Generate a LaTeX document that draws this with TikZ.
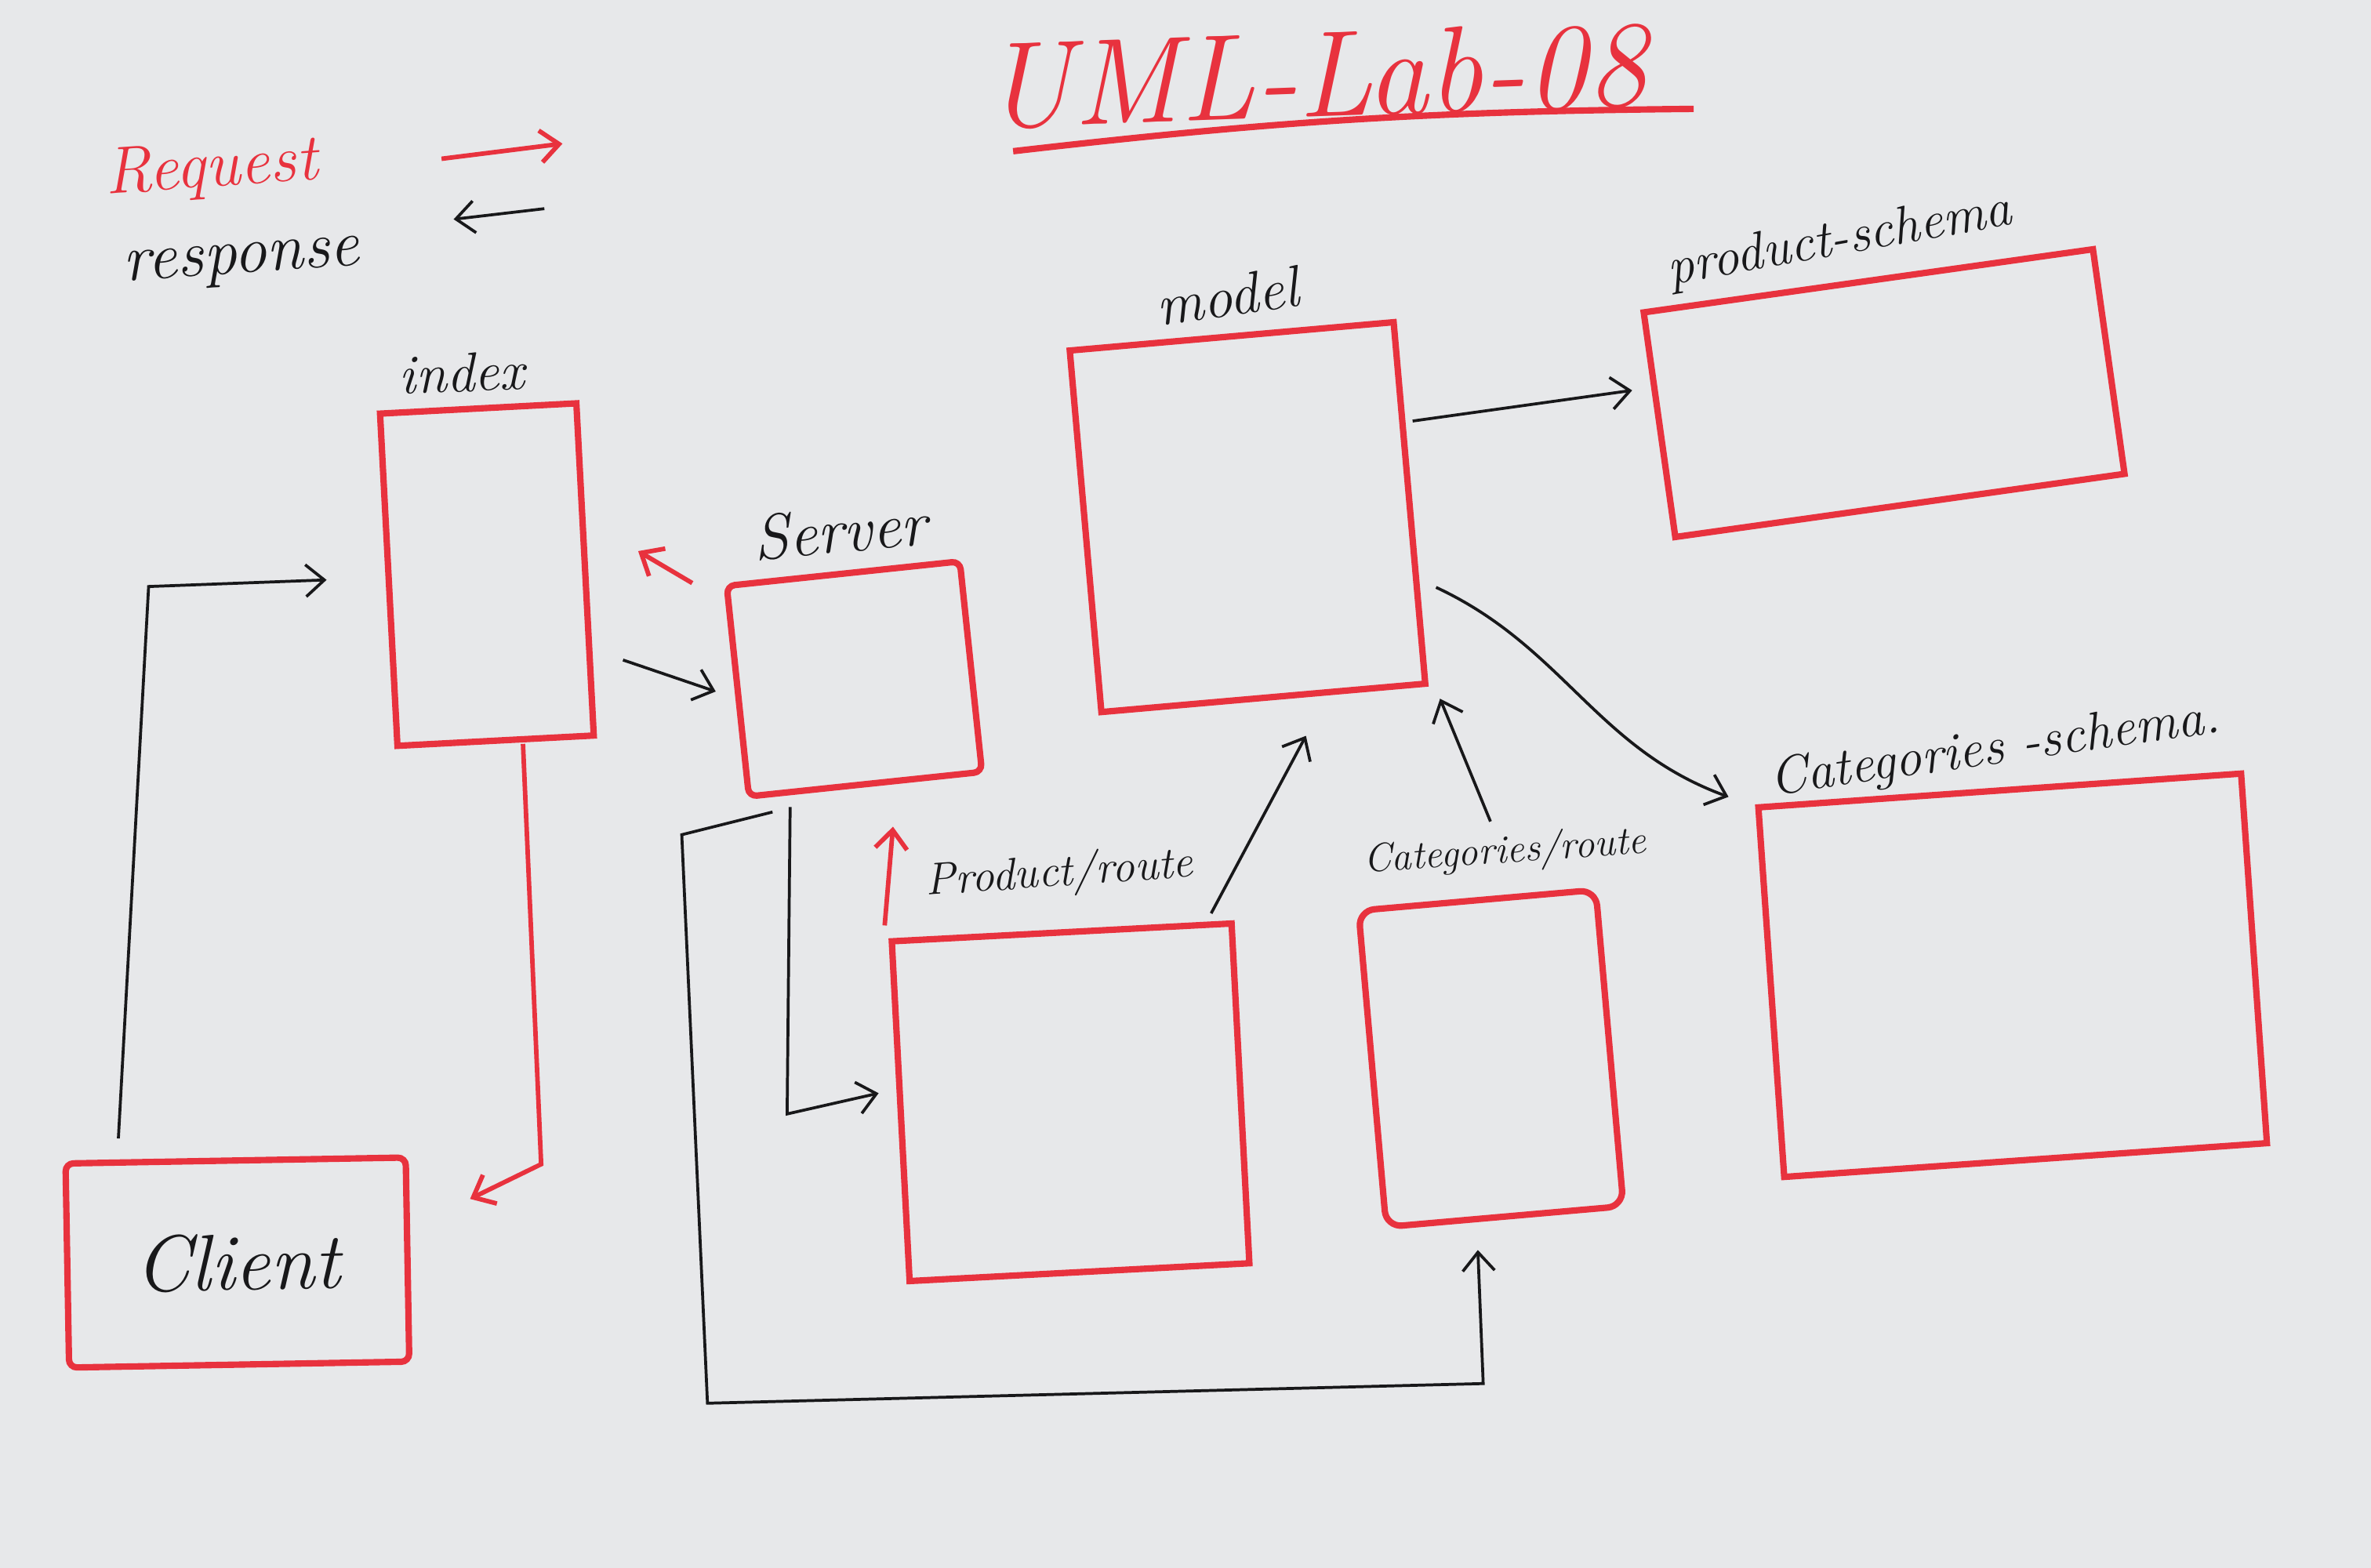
\documentclass[tikz,border=0pt]{standalone}
\usepackage{tikz}
\usetikzlibrary{positioning, arrows.meta}
\definecolor{marker}{RGB}{232,50,62}
\definecolor{ink}{RGB}{24,24,26}
\definecolor{board}{RGB}{231,232,234}
\tikzset{>={Straight Barb[length=7pt,width=12pt]}, redbox/.style={draw=marker, line width=2.4pt, inner sep=0pt}, hand/.style={text=ink, font=\fontsize{21}{23}\selectfont\itshape}, reqline/.style={draw=marker, line width=1.7pt, ->}, respline/.style={draw=ink, line width=1.1pt, ->}}

\begin{document}
\begin{tikzpicture}
	\fill[board] (0,0) rectangle (31.36,-20.74);
	\useasboundingbox (0,0) rectangle (31.36,-20.74);
	% title and legend
	\node[hand, text=marker, font=\fontsize{46}{50}\selectfont\itshape, rotate=2] (title) at (17.4,-1.0) {UML-Lab-08};
	\coordinate (ula) at (13.4,-2.0);
	\coordinate (ulb) at (22.4,-1.44);
	\draw[marker, line width=2.4pt] (ula) to[bend left=3] (ulb);
	\node[hand, text=marker, font=\fontsize{25}{27}\selectfont\itshape, rotate=4, inner sep=0pt] (request) at (2.8,-2.25) {Request};
	\node[hand, font=\fontsize{25}{27}\selectfont\itshape, rotate=4, inner sep=0pt] (response) at (3.2,-3.5) {response};
	\coordinate (reqa) at (5.84,-2.1);
	\coordinate (reqb) at (7.44,-1.9);
	\coordinate (respa) at (7.2,-2.76);
	\coordinate (respb) at (6.0,-2.9);
	\draw[reqline] (reqa) -- (reqb);
	\draw[respline] (respa) -- (respb);

	% boxes
	\node[redbox, minimum width=4.5cm, minimum height=2.7cm, rotate=1, rounded corners=3pt, font=\fontsize{30}{32}\selectfont\itshape, text=ink] (client) at (3.14,-16.7) {Client};
	\node[redbox, minimum width=2.6cm, minimum height=4.4cm, rotate=3] (index) at (6.44,-7.6) {};
	\node[redbox, minimum width=3.1cm, minimum height=2.8cm, rotate=6, rounded corners=3pt] (server) at (11.3,-8.98) {};
	\node[redbox, minimum width=4.3cm, minimum height=4.8cm, rotate=5] (model) at (16.5,-6.84) {};
	\node[redbox, minimum width=6cm, minimum height=3cm, rotate=8] (pschema) at (24.92,-5.2) {};
	\node[redbox, minimum width=4.5cm, minimum height=4.5cm, rotate=3] (proute) at (14.16,-14.58) {};
	\node[redbox, minimum width=3.15cm, minimum height=4.2cm, rotate=5, rounded corners=6pt] (croute) at (19.72,-14.0) {};
	\node[redbox, minimum width=6.4cm, minimum height=4.9cm, rotate=4] (cschema) at (26.62,-12.9) {};

	% labels
	\node[hand, above=0.05cm of index.north, xshift=-0.2cm, rotate=2] (indexlbl) {index};
	\node[hand, font=\fontsize{24}{26}\selectfont\itshape, above=0.1cm of server.north, rotate=5] (serverlbl) {Server};
	\node[hand, font=\fontsize{22}{24}\selectfont\itshape, above=0.1cm of model.north, rotate=8] (modellbl) {model};
	\node[hand, font=\fontsize{20}{22}\selectfont\itshape, above=0.05cm of pschema.north, xshift=-0.3cm, rotate=10] (pschemalbl) {product-schema};
	\node[hand, font=\fontsize{17}{19}\selectfont\itshape, above=0.3cm of proute.north, rotate=4] (proutelbl) {Product/route};
	\node[hand, font=\fontsize{15}{17}\selectfont\itshape, above=0.2cm of croute.north, xshift=0.4cm, rotate=4] (croutelbl) {Categories/route};
	\node[hand, font=\fontsize{20}{22}\selectfont\itshape, above=0.05cm of cschema.north, rotate=8] (cschemalbl) {Categories -schema.};

	% connectors
	\draw[respline] ([xshift=-1.55cm,yshift=0.25cm]client.north) -- ++(0.4,7.3) -- ([xshift=-0.78cm]index.west);
	\draw[reqline] ([xshift=0.36cm]index.south) -- ++(0.24,-5.56) -- ([shift={(0.81cm,-0.59cm)}]client.north east);
	\draw[respline] ([shift={(0.46cm,-1.2cm)}]index.east) -- ([xshift=-0.25cm]server.west);
	\draw[reqline] ([xshift=-0.41cm]server.north west) -- ([shift={(0.66cm,0.24cm)}]index.east);
	\draw[respline] ([shift={(-1.0cm,-0.26cm)}]server.south) -- ++(-0.04,-4.06) -- ([shift={(-0.25cm,0.24cm)}]proute.west);
	\draw[respline] ([shift={(0.35cm,-0.16cm)}]server.south west) -- ++(-1.2,-0.3) -- ++(0.34,-7.52) -- ++(10.26,0.26) -- ([shift={(-0.36cm,-0.4cm)}]croute.south);
	\draw[reqline] ([shift={(-0.05cm,0.17cm)}]proute.north west) -- ([shift={(0.36cm,-0.52cm)}]server.south);
	\draw[respline] ([shift={(-0.31cm,0.09cm)}]proute.north east) -- ([shift={(0.56cm,-0.46cm)}]model.south);
	\draw[respline] ([shift={(0.18cm,1.0cm)}]croute.north) -- ([shift={(0.15cm,-0.16cm)}]model.south east);
	\draw[respline] ([yshift=1.08cm]model.east) -- ([shift={(-0.32cm,0.46cm)}]pschema.west);
	\draw[respline] ([shift={(0.31cm,-1.12cm)}]model.east) to[out=-25, in=160] ([shift={(-0.35cm,0.1cm)}]cschema.north west);
\end{tikzpicture}
\end{document}
